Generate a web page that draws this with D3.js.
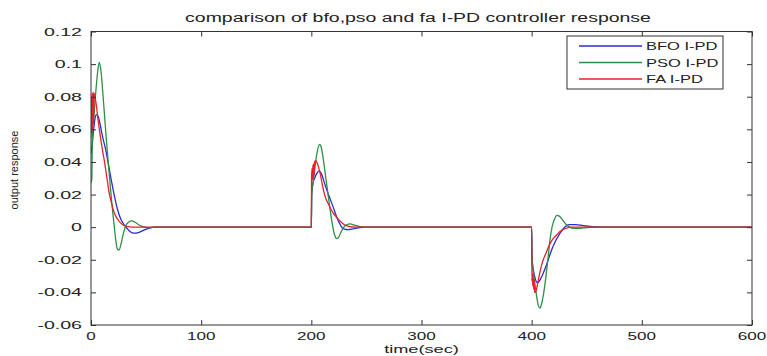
<!DOCTYPE html>
<html>
<head>
<meta charset="utf-8">
<script src="https://cdn.jsdelivr.net/npm/d3@7/dist/d3.min.js"></script>
<style>
  html, body { margin: 0; padding: 0; background: #fff; }
  svg { display: block; }
  text { font-family: "Liberation Sans", Arial, sans-serif; fill: #222; }
</style>
</head>
<body>
<svg id="chart" width="767" height="356"></svg>
<script>
// ---- data ----
const seriesNames = ["BFO I-PD", "PSO I-PD", "FA I-PD"];
const xTicks = [0, 100, 200, 300, 400, 500, 600];
const xTickLabels = ["0", "100", "200", "300", "400", "500", "600"];
const yTicks = [-0.06, -0.04, -0.02, 0, 0.02, 0.04, 0.06, 0.08, 0.1, 0.12];
const yTickLabels = ["-0.06", "-0.04", "-0.02", "0", "0.02", "0.04", "0.06", "0.08", "0.1", "0.12"];

const bfoData = [
  [0,0.045],[1,0.05],[2,0.057],[3.5,0.066],[5,0.069],[6.5,0.068],[8,0.064],[10,0.057],[13.5,0.047],
  [17,0.034],[21,0.02],[24,0.011],[27,0.005],[30,0.0015],[33,-0.001],[36,-0.003],[39,-0.0037],
  [43,-0.0033],[48,-0.0018],[53,-0.0006],[58,0],[200,0],
  [200.4,0.02],[201.5,0.027],[203,0.03],[205,0.033],[207,0.0345],[209,0.033],[212,0.027],[215,0.021],
  [217,0.0175],[220,0.012],[223,0.0063],[225.5,0.0025],[227.5,0],[230,-0.0012],[233.5,-0.0015],
  [238,-0.001],[244,-0.0003],[250,0],[400,0],
  [400.3,-0.018],[401.5,-0.026],[403,-0.031],[405,-0.034],[407,-0.033],[410,-0.029],[413,-0.024],
  [416,-0.018],[419,-0.0125],[422,-0.008],[425,-0.0045],[428,-0.0015],[430.5,0.0003],[434,0.0015],
  [440,0.0016],[447,0.0009],[455,0.0003],[465,0],[600,0]
];
const psoData = [
  [0,0.027],[0.8,0.03],[1.2,0.055],[2.5,0.066],[4,0.08],[6,0.095],[7.5,0.101],[9,0.096],[11,0.08],
  [13,0.062],[15,0.045],[17,0.029],[19,0.014],[21,0.001],[22.5,-0.008],[24,-0.0135],[25.5,-0.014],
  [27,-0.011],[29,-0.005],[31,0],[34,0.003],[37,0.0038],[40,0.003],[44,0.0012],[48,0.0002],
  [52,-0.0003],[58,0],[200,0],
  [200.3,0.02],[201.5,0.027],[203,0.035],[205,0.045],[207.5,0.0507],[209,0.049],[211,0.041],
  [213,0.031],[215,0.021],[217,0.011],[219,0.002],[221,-0.0045],[223,-0.007],[225,-0.006],
  [227,-0.003],[229.5,0],[232,0.0015],[235,0.002],[239,0.0013],[244,0.0003],[250,0],[400,0],
  [400.3,-0.02],[402,-0.03],[404,-0.04],[406,-0.048],[407.5,-0.0497],[409,-0.047],[411,-0.04],
  [413,-0.03],[415,-0.018],[417,-0.006],[418.5,0],[420.5,0.0045],[423,0.0072],[425,0.0068],
  [428,0.0045],[431,0.0018],[434,0.0002],[438,-0.0008],[443,-0.0008],[450,-0.0002],[458,0],[600,0]
];
const faData = [
  [0,0.055],[0.4,0.08],[0.8,0.058],[1.2,0.082],[1.6,0.06],[2,0.083],[2.4,0.065],[2.8,0.082],
  [3.5,0.08],[5,0.074],[6,0.068],[8,0.058],[10.5,0.047],[12.5,0.039],[14.5,0.03],[16.5,0.021],
  [18.5,0.015],[21,0.009],[24,0.005],[27,0.0025],[30,0.001],[35,0.0002],[40,0],[200,0],
  [200.2,0.03],[200.6,0.036],[201,0.029],[201.4,0.038],[201.8,0.03],[202.2,0.039],[202.6,0.032],
  [203,0.04],[204,0.041],[205.5,0.039],[208,0.033],[210,0.026],[212,0.02],[216,0.0135],[220,0.0085],
  [223,0.006],[226,0.0038],[230,0.0015],[235,0.0003],[240,0],[400,0],
  [400.2,-0.033],[400.6,-0.028],[401,-0.036],[401.4,-0.03],[401.8,-0.038],[402.2,-0.032],
  [402.6,-0.04],[403.5,-0.04],[405,-0.036],[406.5,-0.031],[408,-0.026],[410,-0.021],[413,-0.016],
  [416,-0.011],[419,-0.0075],[422.5,-0.005],[426,-0.0025],[430,-0.001],[435,0],[600,0]
];
const seriesData = [bfoData, psoData, faData];
const seriesColors = ["#2b2bd6", "#2f8f45", "#e8202a"];

// ---- layout ----
const svg = d3.select("#chart");
const L = 91, R = 752, T = 31.5, B = 325;

const x = d3.scaleLinear().domain([0, 600]).range([L, R]);
const y = d3.scaleLinear().domain([-0.06, 0.12]).range([B, T]);

svg.append("rect").attr("width", 767).attr("height", 356).attr("fill", "#fff");

function stretch(sel, k) {
  sel.each(function () {
    const w = this.getComputedTextLength();
    this.setAttribute("textLength", w * k);
    this.setAttribute("lengthAdjust", "spacingAndGlyphs");
  });
}

// clip
svg.append("clipPath").attr("id", "clip")
  .append("rect").attr("x", L).attr("y", T).attr("width", R - L).attr("height", B - T);

// lines
const line = d3.line().x(d => x(d[0])).y(d => y(d[1])).curve(d3.curveMonotoneX);
const plot = svg.append("g").attr("clip-path", "url(#clip)");
seriesData.forEach((data, i) => {
  plot.append("path").datum(data)
    .attr("fill", "none")
    .attr("stroke", seriesColors[i])
    .attr("stroke-width", 1.3)
    .attr("stroke-linejoin", "round")
    .attr("d", line);
});

// axes (ticks inward, all four sides)
const axisColor = "#333";
function styleAxis(g) {
  g.select(".domain").remove();
  g.selectAll("line").attr("stroke", axisColor);
  g.selectAll("text").remove();
}
svg.append("g").attr("transform", `translate(0,${B})`)
  .call(d3.axisBottom(x).tickValues(xTicks).tickSize(-5)).call(styleAxis);
svg.append("g").attr("transform", `translate(0,${T})`)
  .call(d3.axisTop(x).tickValues(xTicks).tickSize(-5)).call(styleAxis);
svg.append("g").attr("transform", `translate(${L},0)`)
  .call(d3.axisLeft(y).tickValues(yTicks).tickSize(-5)).call(styleAxis);
svg.append("g").attr("transform", `translate(${R},0)`)
  .call(d3.axisRight(y).tickValues(yTicks).tickSize(-5)).call(styleAxis);

svg.append("rect").attr("x", L).attr("y", T).attr("width", R - L).attr("height", B - T)
  .attr("fill", "none").attr("stroke", axisColor).attr("stroke-width", 1);

// tick labels
svg.append("g").selectAll("text").data(xTicks).join("text")
  .attr("x", d => x(d)).attr("y", B + 15)
  .attr("text-anchor", "middle").attr("font-size", 11)
  .text((d, i) => xTickLabels[i]).call(stretch, 1.55);
svg.append("g").selectAll("text").data(yTicks).join("text")
  .attr("x", L - 9).attr("y", d => y(d) + 4)
  .attr("text-anchor", "end").attr("font-size", 11.5)
  .text((d, i) => yTickLabels[i]).call(stretch, 1.7);

// axis titles
svg.append("text").attr("x", (L + R) / 2).attr("y", 353)
  .attr("text-anchor", "middle").attr("font-size", 11)
  .text("time(sec)").call(stretch, 1.65);
svg.append("text")
  .attr("transform", `translate(18,170) rotate(-90)`)
  .attr("text-anchor", "middle").attr("font-size", 11)
  .text("output response");
svg.append("text").attr("x", 418).attr("y", 22)
  .attr("text-anchor", "middle").attr("font-size", 12)
  .text("comparison of bfo,pso and fa I-PD controller response").call(stretch, 1.62);

// legend
const lg = svg.append("g");
lg.append("rect").attr("x", 567).attr("y", 36).attr("width", 156).attr("height", 53)
  .attr("fill", "#fff").attr("stroke", axisColor).attr("stroke-width", 1);
seriesNames.forEach((name, i) => {
  const cy = 46 + i * 16.5;
  lg.append("line").attr("x1", 579).attr("x2", 642).attr("y1", cy).attr("y2", cy)
    .attr("stroke", seriesColors[i]).attr("stroke-width", 1.3);
  lg.append("text").attr("x", 646).attr("y", cy + 4).attr("font-size", 11)
    .text(name).call(stretch, 1.5);
});
</script>
</body>
</html>
